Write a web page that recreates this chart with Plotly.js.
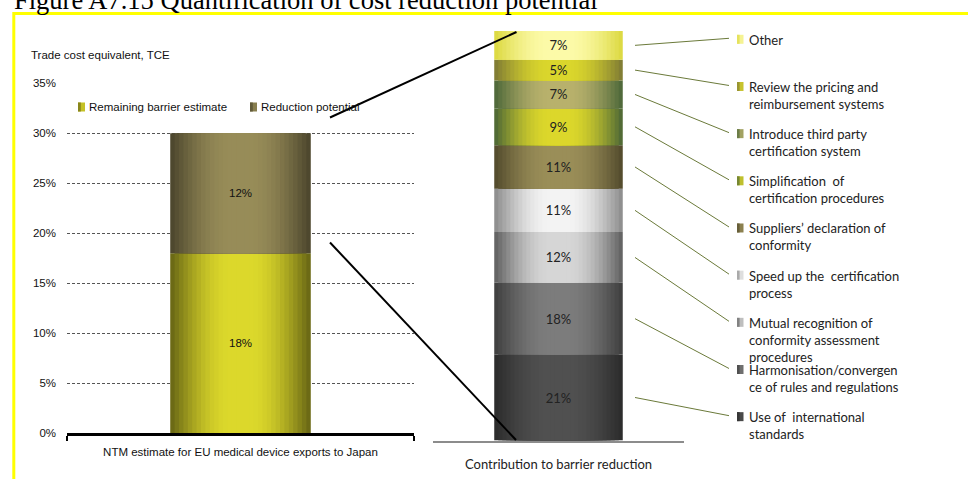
<!DOCTYPE html>
<html><head><meta charset="utf-8">
<script src="https://cdn.plot.ly/plotly-3.0.1.min.js"></script>
<style>html,body{margin:0;padding:0;background:#fff;} #chart{width:968px;height:479px;}</style>
</head><body><div id="chart"></div>
<script>
// ---------------- data ----------------
const figureTitle = 'Figure A7.15 Quantification of cost reduction potential';
const leftAxisTitle = 'Trade cost equivalent, TCE';
const leftCategory = ['NTM estimate for EU medical device exports to Japan'];
const leftSeriesNames = ['Remaining barrier estimate', 'Reduction potential'];
const remainingBarrier = [0.18];
const reductionPotential = [0.12];
const leftTickVals = [0, 0.05, 0.10, 0.15, 0.20, 0.25, 0.30, 0.35];
const leftTickText = ['0%', '5%', '10%', '15%', '20%', '25%', '30%', '35%'];

const rightCategory = ['Contribution to barrier reduction'];
// bottom to top
const measureNames = [
  'Use of  international<br>standards',
  'Harmonisation/convergen<br>ce of rules and regulations',
  'Mutual recognition of<br>conformity assessment<br>procedures',
  'Speed up the  certification<br>process',
  'Suppliers\u2019 declaration of<br>conformity',
  'Simplification  of<br>certification procedures',
  'Introduce third party<br>certification system',
  'Review the pricing and<br>reimbursement systems',
  'Other'
];
const measureShares = [21, 17.5, 12.4, 10.6, 10.6, 9.0, 6.8, 5.1, 7.0];

// ---------------- styles ----------------
const W = 968, H = 479;
const px = v => v / W;
const py = v => 1 - v / H;
const leftColors = [['#656314', '#dcd82b'], ['#4a442c', '#978c58']];
const rightColors = [
  ['#2b2b2b', '#505050'],
  ['#3d3d3d', '#7c7c7c'],
  ['#5e5e5e', '#d6d6d6'],
  ['#8a8a8a', '#f3f3f3'],
  ['#51492c', '#9a8e58'],
  ['#4a6536', '#dcd72b'],
  ['#4b6638', '#b8b16c'],
  ['#7d7935', '#dad62c'],
  ['#dbd83e', '#fcfaa8']
];
const sansL = 'Liberation Sans, Arial, sans-serif';
const sansR = 'Lato, Liberation Sans, sans-serif';
const N = 16;

function hex(h){ return [1,3,5].map(i => parseInt(h.substr(i,2),16)); }
function mix(a, b, t){
  const A = hex(a), B = hex(b);
  return 'rgb(' + A.map((v,i) => Math.round(v + (B[i]-v)*t)).join(',') + ')';
}
function cumBases(vals){ const out=[]; let s=0; vals.forEach(v=>{out.push(s); s+=v;}); return out; }

const traces = [];
const textTraces = [];
function addSeries(cat, value, base, cols, width, xa, ya, name, label, font){
  for (let k = 0; k < N; k++) {
    const t = Math.sin(Math.min(1, (k + 0.5) / N * 1.15) * Math.PI / 2);
    traces.push({type:'bar', x:cat, y:[value], base:[base], width:[width*(1-k/N)],
      xaxis:xa, yaxis:ya, marker:{color:mix(cols[0], cols[1], t), line:{width:0}},
      showlegend:false, hoverinfo:'skip', name:name});
  }
  textTraces.push({type:'bar', x:cat, y:[value], base:[base], width:[width],
    xaxis:xa, yaxis:ya, marker:{color:'rgba(0,0,0,0)', line:{width:0}},
    text:[label], textposition:'inside', insidetextanchor:'middle', textangle:0,
    constraintext:'none', textfont:font, showlegend:false, name:name,
    hovertemplate: name.replace(/<br>/g,' ') + ': %{y}<extra></extra>'});
}

// left chart
const leftVals = [remainingBarrier[0], reductionPotential[0]];
const leftBases = cumBases(leftVals);
leftVals.forEach((v, i) => addSeries(leftCategory, v, leftBases[i], leftColors[i], 0.405, 'x', 'y',
  leftSeriesNames[i], Math.round(v*100) + '%', {family:sansL, size:11.5, color:'#111'}));

// right chart
const rightBases = cumBases(measureShares);
measureShares.forEach((v, i) => addSeries(rightCategory, v, rightBases[i], rightColors[i], 0.512, 'x2', 'y2',
  measureNames[i], Math.round(v) + '%', {family:sansR, size:13, color:'#222'}));

const data = traces.concat(textTraces);

// ---------------- layout decorations ----------------
const shapes = [];
const annotations = [];
// yellow frame
shapes.push({type:'rect', xref:'paper', yref:'paper', x0:px(13.8), x1:px(990), y0:py(13.5), y1:py(500),
  line:{color:'#ffff00', width:3}, fillcolor:'rgba(0,0,0,0)'});
// title
annotations.push({xref:'paper', yref:'paper', x:px(12), y:py(0), xanchor:'left', yanchor:'middle',
  text:figureTitle, showarrow:false, font:{family:'Liberation Serif, Times New Roman, serif', size:26.5, color:'#000'}});
// left axis title
annotations.push({xref:'paper', yref:'paper', x:px(29), y:py(55), xanchor:'left', yanchor:'middle',
  text:leftAxisTitle, showarrow:false, font:{family:sansL, size:11.5, color:'#111'}});

function iconShapes(x0, yc, w, h, cols){
  shapes.push({type:'rect', xref:'paper', yref:'paper', x0:px(x0), x1:px(x0 + w),
    y0:py(yc + h/2), y1:py(yc - h/2), line:{width:0}, fillcolor:mix(cols[0], cols[1], 0.8), layer:'above'});
  shapes.push({type:'rect', xref:'paper', yref:'paper', x0:px(x0), x1:px(x0 + w*0.4),
    y0:py(yc + h/2), y1:py(yc - h/2), line:{width:0}, fillcolor:mix(cols[0], cols[1], 0.3), layer:'above'});
}
// left legend
const leftLegendX = [78, 250];
leftSeriesNames.forEach((n, i) => {
  iconShapes(leftLegendX[i], 107, 7, 9, leftColors[i]);
  annotations.push({xref:'paper', yref:'paper', x:px(leftLegendX[i] + 9), y:py(107.5), xanchor:'left', yanchor:'middle',
    text:n, showarrow:false, font:{family:sansL, size:11.5, color:'#111'}});
});

// right legend with leader lines (top item first)
const y2Dom = [py(440.5), py(31)];
const legTop = 39.3, legStep = 47.17, fsR = 13;
for (let r = 0; r < measureNames.length; r++) {
  const i = measureNames.length - 1 - r;       // series index
  const ly = legTop + r * legStep;
  iconShapes(737, ly, 6.5, 9, rightColors[i]);
  annotations.push({xref:'paper', yref:'paper', x:px(747), y:py(ly - 9.5), xanchor:'left', yanchor:'top',
    align:'left', text:measureNames[i], showarrow:false, font:{family:sansR, size:fsR, color:'#222'}});
  const mid = rightBases[i] + measureShares[i] / 2;
  const yStart = y2Dom[0] + (mid / 100) * (y2Dom[1] - y2Dom[0]);
  shapes.push({type:'line', xref:'paper', yref:'paper', x0:px(635), y0:yStart, x1:px(729), y1:py(ly - 1),
    line:{color:'#6b7a3a', width:1}});
}
// connector lines from left bar to right bar
shapes.push({type:'line', xref:'paper', yref:'paper', x0:px(330), y0:py(117.5), x1:px(516.5), y1:py(32),
  line:{color:'#000', width:2}});
shapes.push({type:'line', xref:'paper', yref:'paper', x0:px(330), y0:py(242.5), x1:px(516), y1:py(440),
  line:{color:'#000', width:2}});

const layout = {
  width: W, height: H,
  margin: {l:0, r:0, t:0, b:0},
  paper_bgcolor: '#fff', plot_bgcolor: 'rgba(0,0,0,0)',
  barmode: 'overlay',
  showlegend: false,
  xaxis: {domain:[px(67), px(414)], anchor:'y', type:'category', range:[-0.5, 0.5],
    showline:true, linecolor:'#000', linewidth:3, ticks:'outside', tickson:'boundaries', ticklen:5,
    tickwidth:1.5, tickcolor:'#000', showgrid:false, zeroline:false, ticklabelstandoff:6,
    tickfont:{family:sansL, size:11.5, color:'#111'}, fixedrange:true},
  yaxis: {domain:[py(433), py(83.3)], anchor:'x', range:[0, 0.35], tickvals:leftTickVals, ticktext:leftTickText,
    showgrid:true, gridcolor:'#555', griddash:'3px,2px', gridwidth:1, zeroline:false, showline:false,
    ticks:'', ticklabelstandoff:10, tickfont:{family:sansL, size:11.5, color:'#111'}, fixedrange:true},
  xaxis2: {domain:[px(433), px(684)], anchor:'y2', type:'category', range:[-0.5, 0.5],
    showline:true, linecolor:'#8c8c8c', linewidth:2, ticks:'', showgrid:false, zeroline:false,
    ticklabelstandoff:11, tickfont:{family:sansR, size:13, color:'#222'}, fixedrange:true},
  yaxis2: {domain:y2Dom, anchor:'x2', range:[0, 100], showgrid:false, zeroline:false,
    showticklabels:false, ticks:'', showline:false, fixedrange:true},
  shapes: shapes,
  annotations: annotations
};

Plotly.newPlot('chart', data, layout, {displayModeBar:false, staticPlot:true});
</script>
</body></html>
